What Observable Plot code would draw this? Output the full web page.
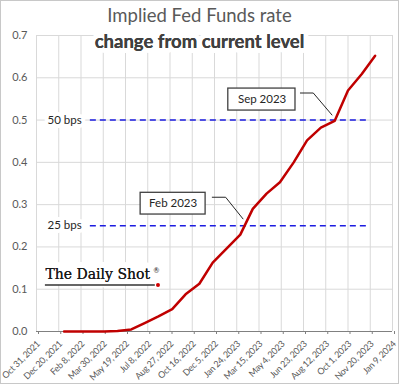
<!DOCTYPE html>
<html>
<head>
<meta charset="utf-8">
<script src="https://cdn.jsdelivr.net/npm/d3@7"></script>
<script src="https://cdn.jsdelivr.net/npm/@observablehq/plot@0.6"></script>
<style>
  html, body { margin: 0; padding: 0; background: white; }
  #chart svg { display: block; outline: 1px solid #c8c8c8; outline-offset: -1px; }
  #chart svg g[aria-label="x-axis tick label"] text { letter-spacing: -0.3px; }
</style>
</head>
<body>
<div id="chart"></div>
<script>
// ---- data ----
const months = ["2022-01-01","2022-02-01","2022-03-01","2022-04-01","2022-05-01","2022-06-01",
  "2022-07-01","2022-08-01","2022-09-01","2022-10-01","2022-11-01","2022-12-01",
  "2023-01-01","2023-02-01","2023-03-01","2023-04-01","2023-05-01","2023-06-01",
  "2023-07-01","2023-08-01","2023-09-01","2023-10-01","2023-11-01","2023-12-01"];
const rateChange = [0, 0, 0, 0, 0.001, 0.005,
  0.02, 0.036, 0.053, 0.088, 0.113, 0.163,
  0.196, 0.229, 0.29, 0.326, 0.353, 0.40,
  0.452, 0.482, 0.498, 0.57, 0.609, 0.652];
const xTickLabels = ["Oct 31, 2021","Dec 20, 2021","Feb 8, 2022","Mar 30, 2022","May 19, 2022",
  "Jul 8, 2022","Aug 27, 2022","Oct 16, 2022","Dec 5, 2022","Jan 24, 2023","Mar 15, 2023",
  "May 4, 2023","Jun 23, 2023","Aug 12, 2023","Oct 1, 2023","Nov 20, 2023","Jan 9, 2024"];
const yTicks = [0, 0.1, 0.2, 0.3, 0.4, 0.5, 0.6, 0.7];
const title = "Implied Fed Funds rate";
const subtitle = "change from current level";

// reference levels
const refLevels = [0.5, 0.25];
const refLabels = ["50 bps", "25 bps"];
const refStart = "2022-03-01", refEnd = "2023-11-20", refLabelDate = "2022-01-02";

// callouts
const calloutText = ["Sep 2023", "Feb 2023"];
const calloutCenter = [["2023-03-22", 0.548], ["2022-09-03", 0.303]];
const calloutBox = [["2023-01-05", "2023-06-05", 0.5225, 0.5745], ["2022-06-22", "2022-11-15", 0.2766, 0.328]];
const calloutLeader = [
  [["2023-06-16", 0.564], ["2023-07-15", 0.564], ["2023-08-26", 0.512]],
  [["2022-11-30", 0.3175], ["2022-12-30", 0.3175], ["2023-02-07", 0.2664]]
];

// logo
const logoText = "The Daily Shot";
const logoAnchor = ["2021-11-20", 0.123];
const logoUnderline = ["2021-11-20", "2022-07-25", 0.110];
const logoDot = ["2022-07-31", 0.110];
const logoReg = ["2022-07-21", 0.123];

// ---- build ----
const P = d3.utcParse("%Y-%m-%d");
const parseTick = d3.utcParse("%b %e, %Y");
const xTicks = xTickLabels.map(parseTick);
const series = months.map((m, i) => ({date: P(m), value: rateChange[i]}));
const refs = refLevels.map((v, i) => ({y: v, label: refLabels[i], x1: P(refStart), x2: P(refEnd), lx: P(refLabelDate)}));
const callouts = calloutText.map((t, i) => ({
  text: t, cx: P(calloutCenter[i][0]), cy: calloutCenter[i][1],
  x1: P(calloutBox[i][0]), x2: P(calloutBox[i][1]), y1: calloutBox[i][2], y2: calloutBox[i][3]
}));
const leaders = calloutLeader.flatMap((pts, i) => pts.map(p => ({id: i, date: P(p[0]), value: p[1]})));
const fmtX = d3.utcFormat("%b %-d, %Y");

const chart = Plot.plot({
  width: 399, height: 384,
  marginLeft: 36, marginRight: 7, marginTop: 35, marginBottom: 53,
  style: {fontFamily: "Lato, 'Open Sans', sans-serif", fontSize: "10px", color: "#595959", background: "white"},
  x: {type: "utc", domain: [xTicks[0], xTicks[xTicks.length - 1]]},
  y: {domain: [0, 0.7]},
  marks: [
    Plot.gridX(xTicks, {stroke: "#d9d9d9", strokeOpacity: 1}),
    Plot.gridY(yTicks, {stroke: "#d9d9d9", strokeOpacity: 1}),
    Plot.ruleY([0], {stroke: "#808080", strokeWidth: 1.2}),
    Plot.axisX(xTicks, {tickFormat: fmtX, tickRotate: -45, tickSize: 3, tickPadding: 8, dx: 2, fontSize: 9, label: null, stroke: "#808080"}),
    Plot.axisY(yTicks, {tickFormat: d3.format(".1f"), tickSize: 0, tickPadding: 9, fontSize: 11, label: null}),
    // reference lines
    Plot.ruleY(refs, {y: "y", x1: "x1", x2: "x2", stroke: "#1c1ce0", strokeWidth: 1.5, strokeDasharray: "6,4"}),
    Plot.text(refs, {x: "lx", y: "y", text: "label", fontSize: 11.5, fill: "#262626", stroke: "white", strokeWidth: 8}),
    // logo
    Plot.text([logoText], {x: () => P(logoAnchor[0]), y: () => logoAnchor[1], text: d => d, textAnchor: "start", lineAnchor: "bottom",
      fontFamily: "'DejaVu Serif', serif", fontSize: 14, fill: "#1a1a1a", stroke: "white", strokeWidth: 12}),
    Plot.text([logoText], {x: () => P(logoAnchor[0]), y: () => logoAnchor[1], text: d => d, textAnchor: "start", lineAnchor: "bottom",
      fontFamily: "'DejaVu Serif', serif", fontSize: 14, fill: "#1a1a1a"}),
    Plot.ruleY([logoUnderline], {y: d => d[2], x1: d => P(d[0]), x2: d => P(d[1]), stroke: "#333", strokeWidth: 1.5}),
    Plot.dot([logoDot], {x: d => P(d[0]), y: d => d[1], r: 2, fill: "#d00000", stroke: "none"}),
    Plot.text([logoReg], {x: d => P(d[0]), y: d => d[1], text: () => "®", textAnchor: "start", dy: -9, fontSize: 7, fill: "#1a1a1a"}),
    // data line
    Plot.line(series, {x: "date", y: "value", stroke: "#c00000", strokeWidth: 2.5}),
    // callouts
    Plot.line(leaders, {x: "date", y: "value", z: "id", stroke: "#262626", strokeWidth: 1}),
    Plot.rect(callouts, {x1: "x1", x2: "x2", y1: "y1", y2: "y2", fill: "white", stroke: "#404040", strokeWidth: 1.3}),
    Plot.text(callouts, {x: "cx", y: "cy", text: "text", fontSize: 11.5, fill: "#262626"}),
    // titles
    Plot.text([title], {frameAnchor: "top", dx: -15, dy: -19, text: d => d, fontSize: 18.5, fill: "#595959", lineAnchor: "middle"}),
    Plot.text([subtitle], {frameAnchor: "top", dx: -15, dy: 7, text: d => d, fontSize: 18.5, fontWeight: "bold", fill: "#404040", lineAnchor: "middle", stroke: "white", strokeWidth: 10}),
    Plot.text([subtitle], {frameAnchor: "top", dx: -15, dy: 7, text: d => d, fontSize: 18.5, fontWeight: "bold", fill: "#404040", lineAnchor: "middle"})
  ]
});
document.getElementById("chart").append(chart);
</script>
</body>
</html>
